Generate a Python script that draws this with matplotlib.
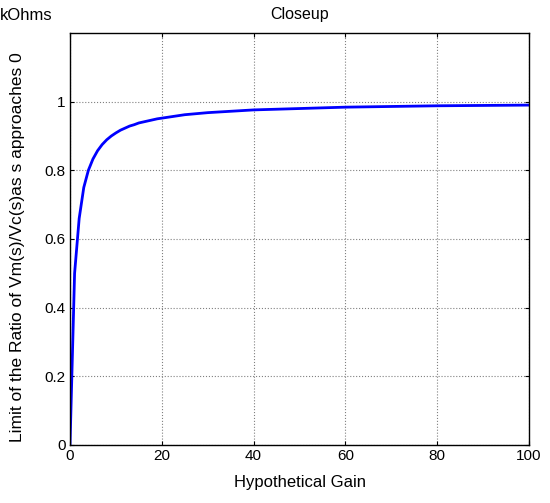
import matplotlib

matplotlib.use("Agg")
import matplotlib.pyplot as plt

# values
gain = [0, 1, 2, 3, 4, 5, 6, 7, 8, 9, 10, 11, 12, 13, 14, 15, 16, 17, 18, 19, 20,
        25, 30, 35, 40, 45, 50, 60, 70, 80, 90, 100]
ratio = [0.0, 0.50, 0.66, 0.75, 0.80, 0.833, 0.857, 0.875, 0.889, 0.90, 0.909,
         0.917, 0.923, 0.929, 0.933, 0.938, 0.941, 0.944, 0.947, 0.950, 0.952,
         0.962, 0.968, 0.972, 0.976, 0.978, 0.980, 0.984, 0.986, 0.988, 0.989, 0.990]

x_ticks = [0, 20, 40, 60, 80, 100]
y_ticks = [0, 0.2, 0.4, 0.6, 0.8, 1.0]
y_tick_labels = ["0", "0.2", "0.4", "0.6", "0.8", "1"]

plt.rcParams["font.family"] = ["Liberation Sans", "DejaVu Sans"]
plt.rcParams["font.size"] = 11

fig = plt.figure(figsize=(5.5, 5.03), dpi=100)
ax = fig.add_axes([70 / 550, 58 / 503, 459 / 550, 412 / 503])

ax.plot(gain, ratio, color="#0000ff", linewidth=2.0)

ax.set_xlim(0, 100)
ax.set_ylim(0, 1.2)
ax.set_xticks(x_ticks)
ax.set_yticks(y_ticks)
ax.set_yticklabels(y_tick_labels)
ax.tick_params(direction="in", length=3, width=0.8, top=True, right=True, pad=3)
ax.grid(True, linestyle=":", color="#808080", linewidth=0.8)
for spine in ax.spines.values():
    spine.set_linewidth(1.0)

ax.set_xlabel("Hypothetical Gain", fontsize=12)
ax.xaxis.set_label_coords(0.5, -0.073)
ax.set_ylabel("Limit of the Ratio of Vm(s)/Vc(s)as s approaches 0", fontsize=12.5)
ax.yaxis.set_label_coords(-0.097, 0.48)
ax.set_title("Closeup", pad=10, fontsize=11.5)
fig.text(0.0, 1 - 15 / 503, "kOhms", ha="left", va="center", fontsize=12)

fig.savefig("out.png", dpi=100)
